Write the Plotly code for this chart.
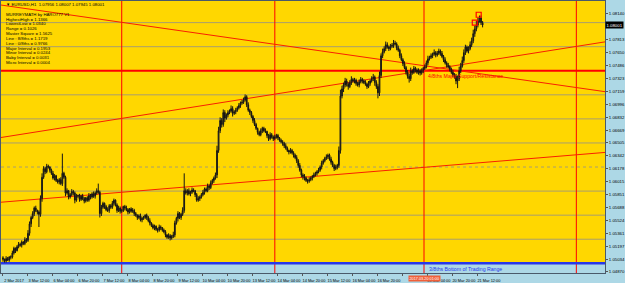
import plotly.graph_objects as go

# ---------------- data ----------------
close = [
    1.0503, 1.0501, 1.0504, 1.0502, 1.0506, 1.0506, 1.0511, 1.0517, 1.0514, 1.0519,
    1.0522, 1.0521, 1.0525, 1.0523, 1.0528, 1.0527, 1.0536, 1.0548, 1.0556, 1.0561,
    1.0568, 1.0565, 1.0563, 1.0560, 1.0580, 1.0607, 1.0618, 1.0614, 1.0621, 1.0620,
    1.0616, 1.0612, 1.0606, 1.0609, 1.0603, 1.0601, 1.0604, 1.0599, 1.0612, 1.0607,
    1.0587, 1.0590, 1.0582, 1.0585, 1.0589, 1.0587, 1.0578, 1.0583, 1.0584, 1.0579,
    1.0583, 1.0580, 1.0577, 1.0581, 1.0578, 1.0584, 1.0582, 1.0586, 1.0583, 1.0587,
    1.0590, 1.0588, 1.0561, 1.0569, 1.0574, 1.0570, 1.0566, 1.0565, 1.0571, 1.0569,
    1.0574, 1.0578, 1.0572, 1.0565, 1.0568, 1.0564, 1.0565, 1.0570, 1.0568, 1.0566,
    1.0563, 1.0567, 1.0564, 1.0565, 1.0561, 1.0559, 1.0556, 1.0558, 1.0553, 1.0555,
    1.0556, 1.0559, 1.0556, 1.0552, 1.0549, 1.0546, 1.0543, 1.0545, 1.0541, 1.0540,
    1.0544, 1.0543, 1.0540, 1.0538, 1.0534, 1.0531, 1.0533, 1.0530, 1.0532, 1.0534,
    1.0549, 1.0555, 1.0561, 1.0556, 1.0560, 1.0565, 1.0590, 1.0587, 1.0590, 1.0586,
    1.0588, 1.0591, 1.0590, 1.0585, 1.0578, 1.0580, 1.0582, 1.0585, 1.0588, 1.0592,
    1.0590, 1.0596, 1.0594, 1.0600, 1.0603, 1.0606, 1.0610, 1.0641, 1.0666, 1.0679,
    1.0674, 1.0689, 1.0682, 1.0686, 1.0689, 1.0691, 1.0694, 1.0688, 1.0690, 1.0692,
    1.0695, 1.0698, 1.0701, 1.0702, 1.0705, 1.0709, 1.0699, 1.0692, 1.0689, 1.0684,
    1.0679, 1.0674, 1.0669, 1.0664, 1.0661, 1.0666, 1.0669, 1.0666, 1.0665, 1.0660,
    1.0656, 1.0661, 1.0658, 1.0656, 1.0658, 1.0660, 1.0657, 1.0654, 1.0652, 1.0650,
    1.0647, 1.0644, 1.0641, 1.0639, 1.0641, 1.0638, 1.0635, 1.0632, 1.0628, 1.0622,
    1.0616, 1.0610, 1.0608, 1.0606, 1.0603, 1.0602, 1.0604, 1.0606, 1.0608, 1.0610,
    1.0612, 1.0614, 1.0616, 1.0620, 1.0625, 1.0628, 1.0631, 1.0633, 1.0635, 1.0630,
    1.0626, 1.0622, 1.0618, 1.0620, 1.0622, 1.0641, 1.0710, 1.0719, 1.0724, 1.0729,
    1.0725, 1.0722, 1.0727, 1.0731, 1.0729, 1.0730, 1.0726, 1.0724, 1.0728, 1.0731,
    1.0729, 1.0727, 1.0725, 1.0722, 1.0726, 1.0729, 1.0732, 1.0734, 1.0727, 1.0722,
    1.0714, 1.0736, 1.0761, 1.0766, 1.0770, 1.0775, 1.0772, 1.0770, 1.0773, 1.0774,
    1.0777, 1.0776, 1.0771, 1.0768, 1.0761, 1.0756, 1.0751, 1.0746, 1.0740, 1.0735,
    1.0732, 1.0742, 1.0740, 1.0745, 1.0743, 1.0740, 1.0742, 1.0739, 1.0742, 1.0745,
    1.0747, 1.0752, 1.0757, 1.0759, 1.0761, 1.0763, 1.0765, 1.0762, 1.0764, 1.0767,
    1.0764, 1.0760, 1.0756, 1.0752, 1.0749, 1.0747, 1.0744, 1.0740, 1.0737, 1.0735,
    1.0729, 1.0732, 1.0742, 1.0748, 1.0755, 1.0765, 1.0772, 1.0767, 1.0770, 1.0775,
    1.0780, 1.0789, 1.0795, 1.0800, 1.0805, 1.0809, 1.0803, 1.0800,
]
first_open = 1.0505
# upper / lower wick lengths in pips (0.0001), one per bar
wick_up_pips = [
    2, 1, 3, 2, 1, 2, 3, 2, 1, 2, 3, 2, 2, 1, 3, 2, 4, 3, 2, 3,
    2, 3, 1, 2, 4, 5, 3, 2, 3, 2, 1, 2, 3, 2, 1, 2, 2, 3, 6, 2,
    2, 3, 1, 2, 3, 2, 2, 3, 1, 2, 2, 3, 2, 1, 2, 3, 2, 2, 3, 2,
    3, 4, 2, 3, 2, 1, 2, 3, 2, 2, 3, 2, 1, 2, 3, 2, 2, 1, 2, 3,
    2, 1, 2, 3, 2, 2, 1, 2, 3, 2, 2, 1, 2, 2, 3, 1, 2, 2, 1, 2,
    3, 2, 1, 2, 2, 1, 3, 2, 2, 4, 3, 2, 3, 2, 2, 4, 6, 3, 2, 3,
    2, 3, 2, 1, 2, 3, 2, 2, 3, 2, 2, 3, 2, 3, 2, 2, 3, 6, 5, 4,
    3, 4, 3, 2, 3, 2, 4, 3, 2, 3, 2, 3, 2, 3, 3, 4, 2, 3, 2, 2,
    2, 3, 2, 1, 2, 3, 2, 2, 3, 1, 2, 3, 2, 2, 3, 2, 2, 1, 2, 2,
    2, 3, 2, 1, 3, 2, 2, 2, 3, 2, 3, 2, 2, 3, 2, 2, 3, 2, 2, 3,
    2, 2, 3, 2, 3, 2, 2, 3, 2, 2, 3, 2, 2, 3, 2, 5, 8, 4, 3, 4,
    3, 2, 3, 4, 2, 3, 2, 2, 3, 3, 2, 2, 3, 2, 3, 2, 3, 4, 2, 3,
    3, 5, 6, 4, 3, 4, 3, 2, 3, 3, 4, 3, 2, 3, 2, 3, 2, 3, 2, 3,
    3, 4, 2, 3, 2, 2, 3, 2, 3, 2, 3, 3, 4, 2, 3, 2, 4, 2, 3, 3,
    2, 3, 2, 3, 2, 3, 2, 2, 3, 2, 3, 4, 5, 4, 5, 4, 3, 2, 3, 4,
    4, 5, 4, 5, 4, 3, 3, 2,
]
wick_dn_pips = [
    3, 2, 2, 1, 2, 3, 2, 2, 3, 1, 2, 2, 3, 2, 2, 3, 2, 3, 4, 2,
    3, 2, 3, 6, 3, 4, 2, 3, 2, 2, 3, 2, 2, 3, 2, 2, 3, 2, 3, 2,
    4, 2, 3, 2, 2, 3, 4, 2, 2, 3, 2, 2, 3, 2, 2, 2, 3, 2, 2, 3,
    2, 2, 5, 3, 2, 3, 2, 2, 3, 2, 2, 3, 2, 3, 2, 3, 2, 2, 3, 2,
    3, 2, 2, 2, 3, 2, 3, 2, 2, 3, 2, 2, 3, 2, 3, 2, 2, 3, 2, 3,
    2, 3, 2, 2, 3, 2, 2, 3, 2, 2, 3, 2, 4, 2, 3, 2, 3, 2, 3, 2,
    3, 2, 2, 3, 2, 2, 3, 2, 2, 3, 2, 2, 3, 2, 2, 3, 2, 4, 3, 3,
    4, 3, 5, 2, 3, 2, 2, 4, 2, 3, 2, 2, 3, 2, 2, 2, 3, 2, 3, 2,
    3, 2, 2, 3, 2, 2, 3, 2, 2, 3, 3, 2, 2, 3, 2, 2, 3, 2, 2, 3,
    3, 2, 2, 3, 2, 2, 3, 2, 3, 3, 2, 3, 4, 3, 2, 3, 2, 2, 3, 2,
    2, 3, 2, 2, 3, 2, 2, 2, 3, 2, 3, 2, 3, 2, 3, 3, 4, 3, 4, 3,
    3, 4, 2, 3, 2, 3, 3, 2, 3, 2, 3, 2, 2, 3, 2, 3, 2, 3, 4, 3,
    5, 4, 3, 3, 2, 3, 2, 3, 2, 2, 3, 2, 3, 2, 3, 2, 3, 2, 3, 3,
    4, 3, 3, 2, 3, 2, 3, 3, 2, 3, 2, 2, 3, 2, 2, 3, 2, 3, 2, 2,
    3, 2, 3, 2, 3, 2, 3, 2, 3, 3, 4, 5, 3, 3, 2, 3, 3, 2, 3, 2,
    3, 3, 4, 3, 3, 2, 3, 3,
]
spike_high = {38: 1.0637, 61: 1.0599, 116: 1.0612, 155: 1.0712, 305: 1.0812, 242: 1.0764}
spike_low = {23: 1.0544, 62: 1.0556, 240: 1.0707, 260: 1.0727, 291: 1.0720, 137: 1.0606}

x_tick_bars = [0, 16, 32, 48, 64, 80, 96, 112, 128, 144, 160, 176, 192, 208, 224, 240, 256, 272, 288, 304]
# the 17 Mar 12:00 label is hidden under the time box in the reference
x_tick_labels = ["2 Mar 2017", "3 Mar 12:00", "6 Mar 04:00", "6 Mar 20:00", "7 Mar 12:00",
                 "8 Mar 04:00", "8 Mar 20:00", "9 Mar 12:00", "10 Mar 04:00", "10 Mar 20:00",
                 "13 Mar 12:00", "14 Mar 04:00", "14 Mar 20:00", "15 Mar 12:00", "16 Mar 04:00",
                 "16 Mar 20:00", "", "20 Mar 04:00", "20 Mar 20:00", "21 Mar 12:00"]
# the 1.07977 label sits under the current-price box, so it is not listed
y_tick_labels = ["1.04870", "1.05034", "1.05197", "1.05361", "1.05524", "1.05688", "1.05851",
                 "1.06015", "1.06178", "1.06342", "1.06505", "1.06669", "1.06832", "1.06996",
                 "1.07159", "1.07323", "1.07486", "1.07650", "1.07813", "1.08140"]

mm_gray_levels = [1.0803, 1.07725, 1.07115, 1.0681, 1.06505, 1.05895, 1.0559, 1.05285]
mm_dotted_level = 1.0620
mm_major_level = 1.0742      # 4/8ths
mm_bottom_level = 1.0498     # 3/8ths
vline_bars = [76, 174, 269.5, 367]
trend_lines = [  # (bar0, price0, bar1, price1)
    (-1.27, 1.08253, 385.35, 1.07155),
    (-1.27, 1.06574, 385.35, 1.07786),
    (-1.27, 1.05754, 385.35, 1.06385),
]
signal_bars = [302, 304.5]
signal_prices = [1.0803, 1.0813]
current_price = "1.08001"
time_box_label = "2017.03.20 01:00"
info_lines = ["MURREYMATH by HARO777 V1", "HighestHigh = 1.1366", "LowestLow = 1.0340",
              "Range = 0.1026", "Master Square = 1.5625", "Line : 8/8ths = 1.1719",
              "Line : 0/8ths = 0.9766", "Major Interval = 0.1953", "Minor Interval = 0.0244",
              "Baby Interval = 0.0031", "Micro Interval = 0.0004"]

# ---------------- build ----------------
PIP = 0.0001
bars = list(range(len(close)))
opens = [first_open] + close[:-1]
high = [spike_high.get(i, max(o, c) + wu * PIP)
        for i, (o, c, wu) in enumerate(zip(opens, close, wick_up_pips))]
low = [spike_low.get(i, min(o, c) - wd * PIP)
       for i, (o, c, wd) in enumerate(zip(opens, close, wick_dn_pips))]
y_tick_vals = [float(v) for v in y_tick_labels]

GOLD = "#FFD700"
LBLUE = "#ADD8E6"
FONT = "Liberation Sans"
Y0, Y1 = 1.04857, 1.08304
X0, X1 = -1.27, 385.35

fig = go.Figure()
fig.add_trace(go.Candlestick(
    x=bars, open=opens, high=high, low=low, close=close,
    increasing=dict(line=dict(color="#151515", width=1), fillcolor="#707060"),
    decreasing=dict(line=dict(color="#151515", width=1), fillcolor="#151515"),
    whiskerwidth=0, showlegend=False, hoverinfo="skip"))
fig.add_trace(go.Scatter(
    x=signal_bars, y=signal_prices, mode="markers",
    marker=dict(symbol="square-open", size=5, color="#FF0000", line=dict(width=1.2)),
    showlegend=False, hoverinfo="skip"))

shapes = []
shapes.append(dict(type="rect", xref="paper", yref="y", x0=0, x1=1, y0=mm_bottom_level, y1=Y1,
                   fillcolor=GOLD, line=dict(width=0), layer="below"))
for lv in mm_gray_levels:
    shapes.append(dict(type="line", xref="paper", yref="y", x0=0, x1=1, y0=lv, y1=lv,
                       line=dict(color="#A89E6E", width=1), layer="below"))
shapes.append(dict(type="line", xref="paper", yref="y", x0=0, x1=1, y0=mm_dotted_level, y1=mm_dotted_level,
                   line=dict(color="#A89E6E", width=1, dash="dot"), layer="below"))
for b in vline_bars:
    shapes.append(dict(type="line", xref="x", yref="paper", x0=b, x1=b, y0=0, y1=1,
                       line=dict(color="#FF0000", width=1), layer="below"))
for (b0, p0, b1, p1) in trend_lines:
    shapes.append(dict(type="line", xref="x", yref="y", x0=b0, x1=b1, y0=p0, y1=p1,
                       line=dict(color="#F82000", width=1), layer="below"))
shapes.append(dict(type="line", xref="paper", yref="y", x0=0, x1=1, y0=mm_major_level, y1=mm_major_level,
                   line=dict(color="#FF0000", width=2), layer="below"))
shapes.append(dict(type="line", xref="paper", yref="y", x0=0, x1=1, y0=mm_bottom_level, y1=mm_bottom_level,
                   line=dict(color="#2838E8", width=2.5), layer="below"))

PLOT_H = 273.0
ann = []
ann.append(dict(xref="paper", yref="paper", x=0.005, y=1 - 4 / PLOT_H, xanchor="left", yanchor="middle",
                text="▼ EURUSD,H1  1.07956 1.08007 1.07945 1.08001", showarrow=False,
                font=dict(family=FONT, size=4.3, color="#000000")))
for k, t in enumerate(info_lines):
    ann.append(dict(xref="paper", yref="paper", x=0.005, y=1 - (13.3 + 4.84 * k) / PLOT_H,
                    xanchor="left", yanchor="middle", text=t, showarrow=False,
                    font=dict(family=FONT, size=4.3, color="#000000")))
ann.append(dict(xref="x", yref="y", x=270.8, y=mm_major_level, xanchor="left", yanchor="top", yshift=-0.5,
                text="4/8ths Major Support/Resistance", showarrow=False,
                font=dict(family=FONT, size=5.2, color="#FF0000")))
ann.append(dict(xref="x", yref="y", x=271.5, y=mm_bottom_level, xanchor="left", yanchor="top", yshift=-0.5,
                text="3/8ths Bottom of Trading Range", showarrow=False,
                font=dict(family=FONT, size=5.2, color="#2838E8")))
ann.append(dict(xref="paper", yref="y", x=1.0, y=float(current_price), xanchor="left", yanchor="middle",
                text=current_price, showarrow=False, bgcolor="#000000", borderpad=0.5,
                font=dict(family=FONT, size=4.3, color="#FFFFFF")))
ann.append(dict(xref="x", yref="paper", x=vline_bars[2], y=-5.5 / PLOT_H, xanchor="center", yanchor="middle",
                text=time_box_label, showarrow=False, bgcolor="#F0603A", borderpad=0.5,
                font=dict(family=FONT, size=3.8, color="#FFFFFF")))

fig.update_layout(
    width=625, height=283,
    margin=dict(l=0, r=18, t=0, b=10),
    paper_bgcolor=LBLUE, plot_bgcolor=LBLUE,
    shapes=shapes, annotations=ann, showlegend=False,
    font=dict(family=FONT, size=4.0, color="#000000"),
    xaxis=dict(range=[X0, X1], tickvals=x_tick_bars, ticktext=x_tick_labels, tickangle=0,
               ticks="outside", ticklen=2, tickcolor="#555555", showgrid=False, zeroline=False,
               showline=True, linecolor="#4A5A6A", linewidth=1, mirror=True,
               rangeslider=dict(visible=False), ticklabelshift=11, ticklabelstandoff=1,
               tickfont=dict(family=FONT, size=3.9, color="#000000")),
    yaxis=dict(range=[Y0, Y1], side="right", tickvals=y_tick_vals, ticktext=y_tick_labels,
               ticks="outside", ticklen=2, tickcolor="#555555", showgrid=False, zeroline=False,
               showline=True, linecolor="#4A5A6A", linewidth=1, mirror=True,
               tickfont=dict(family=FONT, size=4.3, color="#000000")),
)
fig.write_html("out.html")
